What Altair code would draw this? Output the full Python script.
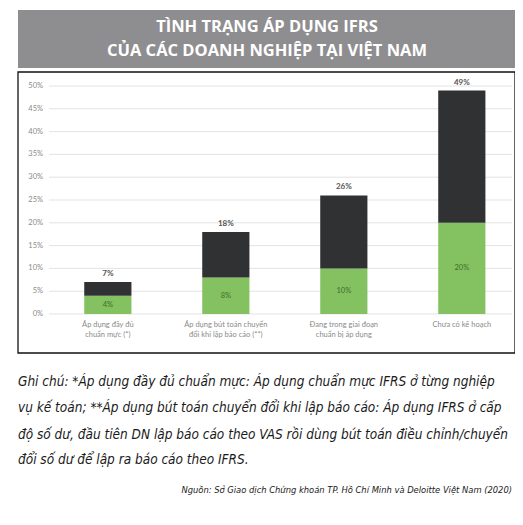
import altair as alt
import pandas as pd

categories = [
    "Áp dụng đầy đủ\nchuẩn mực (*)",
    "Áp dụng bút toán chuyển\nđổi khi lập báo cáo (**)",
    "Đang trong giai đoạn\nchuẩn bị áp dụng",
    "Chưa có kế hoạch",
]
green_values = [4, 8, 10, 20]
total_values = [7, 18, 26, 49]
y_ticks = [0, 5, 10, 15, 20, 25, 30, 35, 40, 45, 50]

title_lines = ["TÌNH TRẠNG ÁP DỤNG IFRS", "CỦA CÁC DOANH NGHIỆP TẠI VIỆT NAM"]
note_lines = [
    "Ghi chú: *Áp dụng đầy đủ chuẩn mực: Áp dụng chuẩn mực IFRS ở từng nghiệp",
    "vụ kế toán; **Áp dụng bút toán chuyển đổi khi lập báo cáo: Áp dụng IFRS ở cấp",
    "độ số dư, đầu tiên DN lập báo cáo theo VAS rồi dùng bút toán điều chỉnh/chuyển",
    "đổi số dư để lập ra báo cáo theo IFRS.",
]
source_text = "Nguồn: Sở Giao dịch Chứng khoán TP. Hồ Chí Minh và Deloitte Việt Nam (2020)"

rows = []
for c, g, t in zip(categories, green_values, total_values):
    rows.append({"cat": c, "seg": "green", "order": 0, "value": g})
    rows.append({"cat": c, "seg": "dark", "order": 1, "value": t - g})
df = pd.DataFrame(rows)
tot = pd.DataFrame({"cat": categories, "green": green_values, "total": total_values})
ticks_df = pd.DataFrame({"v": y_ticks})

W, H = 463, 228
FONT = "Lato"
NOTE_FONT = "DejaVu Sans Condensed"
x_enc = alt.X(
    "cat:N", sort=categories, title=None,
    scale=alt.Scale(paddingInner=0.6, paddingOuter=0.262, align=0.57),
    axis=alt.Axis(labelAngle=0, labelExpr="split(datum.label, '\\n')", labelFont=FONT,
                  labelFontSize=7.5, labelColor="#8a8a8a", ticks=False, domain=False,
                  labelPadding=6, labelLineHeight=10, grid=False),
)
y_scale = alt.Scale(domain=[0, 50], nice=False)

grid = alt.Chart(ticks_df).mark_rule(color="#e3e3e3", strokeWidth=1).encode(
    x=alt.value(0), x2=alt.value(W),
    y=alt.Y("v:Q", scale=y_scale, axis=None),
)
grid_labels = alt.Chart(ticks_df).mark_text(
    align="right", baseline="middle", font=FONT, fontSize=7.5, color="#8a8a8a"
).encode(
    x=alt.value(-6),
    y=alt.Y("v:Q", scale=y_scale, axis=None),
    text=alt.Text("lab:N"),
).transform_calculate(lab="datum.v + '%'")

bars = alt.Chart(df).mark_bar().encode(
    x=x_enc,
    y=alt.Y("value:Q", stack="zero", scale=y_scale, title=None, axis=None),
    color=alt.Color("seg:N", scale=alt.Scale(domain=["green", "dark"], range=["#84c160", "#2f3133"]),
                    legend=None),
    order=alt.Order("order:Q"),
)

total_labels = alt.Chart(tot).mark_text(
    baseline="bottom", dy=-4, font=FONT, fontSize=8, fontWeight="bold", color="#555555"
).encode(
    x=x_enc,
    y=alt.Y("total:Q", scale=y_scale, title=None, axis=None),
    text=alt.Text("label:N"),
).transform_calculate(label="datum.total + '%'")

green_labels = alt.Chart(tot).mark_text(
    baseline="middle", font=FONT, fontSize=7.5, color="#3f6e2c"
).encode(
    x=x_enc,
    y=alt.Y("mid:Q", scale=y_scale, title=None, axis=None),
    text=alt.Text("label:N"),
).transform_calculate(label="datum.green + '%'", mid="datum.green / 2")

one = pd.DataFrame({"k": [0]})
banner = alt.Chart(one).mark_rect(color="#8e8e90").encode(
    x=alt.value(-31), x2=alt.value(467), y=alt.value(-76), y2=alt.value(-18)
)
border = alt.Chart(one).mark_rect(fill=None, stroke="#111111", strokeWidth=1.3).encode(
    x=alt.value(-31), x2=alt.value(466), y=alt.value(-14), y2=alt.value(267)
)
title_layers = [
    alt.Chart(one).mark_text(font="Open Sans", fontSize=16.5, fontWeight="bold", color="white",
                             align="center", baseline="middle").encode(
        x=alt.value(218), y=alt.value(yv), text=alt.value(t))
    for t, yv in zip(title_lines, [-59, -35])
]
note_layers = [
    alt.Chart(one).mark_text(font=NOTE_FONT, fontSize=13.5, fontStyle="italic",
                             color="#1a1a1a", align="left", baseline="middle").encode(
        x=alt.value(-31), y=alt.value(yv), text=alt.value(t))
    for t, yv in zip(note_lines, [296, 322, 349, 374])
]
source = alt.Chart(one).mark_text(font=NOTE_FONT, fontSize=9.3, fontStyle="italic",
                                  color="#1a1a1a", align="right", baseline="middle").encode(
    x=alt.value(463), y=alt.value(404), text=alt.value(source_text))

chart = alt.layer(
    banner, border, grid, grid_labels, bars, total_labels, green_labels,
    *title_layers, *note_layers, source
).properties(
    width=W, height=H,
    autosize=alt.AutoSizeParams(type="none"),
    padding={"left": 41, "top": 78, "right": 3, "bottom": 190},
).configure_view(stroke=None)

chart.save("out.html", embed_options={"renderer": "svg", "actions": False})
